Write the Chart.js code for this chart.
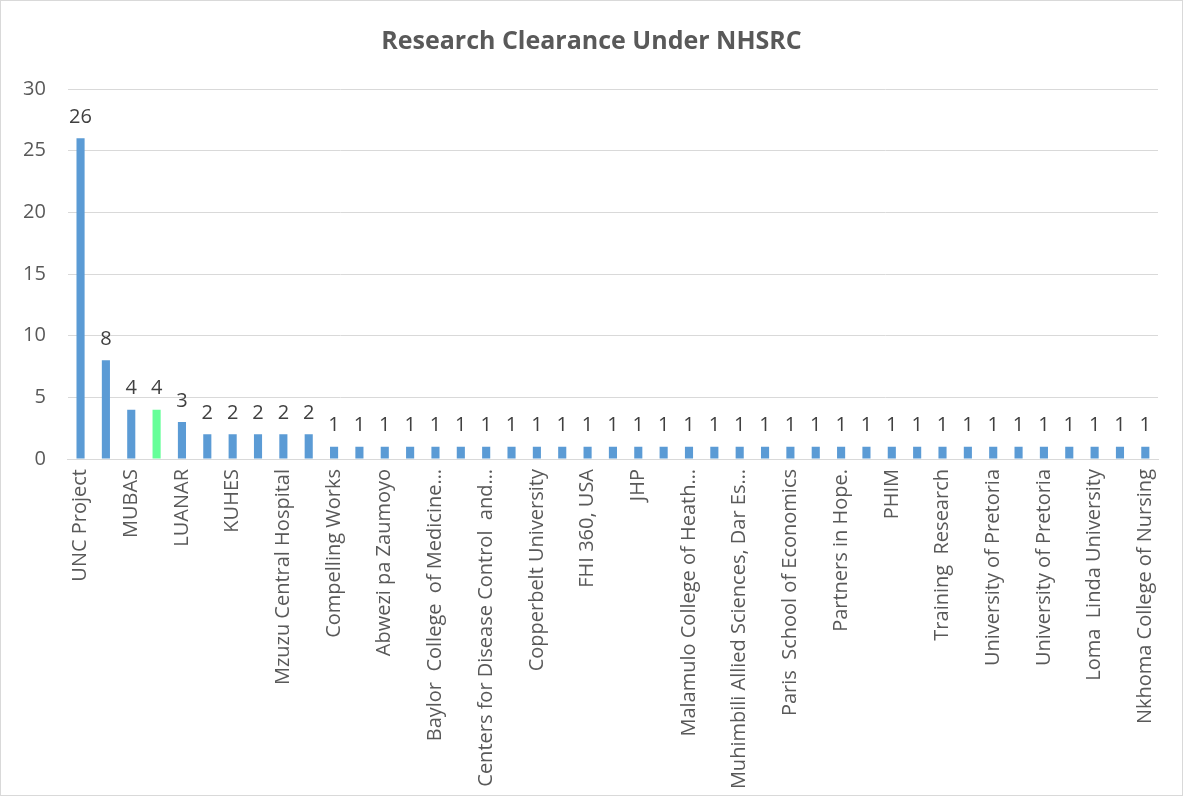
<!DOCTYPE html>
<html>
<head>
<meta charset="utf-8">
<script src="https://cdn.jsdelivr.net/npm/chart.js@4"></script>
<style>
  body { margin: 0; background: #fff; }
  #wrap { width: 1181px; height: 794px; border: 1px solid #d9d9d9; }
</style>
</head>
<body>
<div id="wrap"><canvas id="bargraph" width="1181" height="794"></canvas></div>
<script>
// only every other category name is readable on the original, the rest stay blank
let institutions = [
  'UNC Project', '', 'MUBAS', '', 'LUANAR', '', 'KUHES', '', 'Mzuzu Central Hospital', '',
  'Compelling Works', '', 'Abwezi pa Zaumoyo', '', 'Baylor  College  of Medicine\u2026', '',
  'Centers for Disease Control  and\u2026', '', 'Copperbelt University', '', 'FHI 360, USA', '',
  'JHP', '', 'Malamulo College of Heath\u2026', '', 'Muhimbili Allied Sciences, Dar Es\u2026', '',
  'Paris  School of Economics', '', 'Partners in Hope.', '', 'PHIM', '', 'Training  Research', '',
  'University of Pretoria', '', 'University of Pretoria', '', 'Loma  Linda University', '',
  'Nkhoma College of Nursing'
];
let clearances = [26, 8, 4, 4, 3, 2, 2, 2, 2, 2,
  1, 1, 1, 1, 1, 1, 1, 1, 1, 1, 1, 1, 1, 1, 1, 1, 1, 1, 1, 1, 1, 1, 1, 1, 1, 1, 1, 1, 1, 1, 1, 1, 1];
let yticks = [0, 5, 10, 15, 20, 25, 30];

let barcolors = clearances.map(function(v, i){
  return i === 3 ? '#66ff99' : '#5b9bd5';
});

// draws the value above each bar
let valueLabels = {
  id: 'valueLabels',
  afterDatasetsDraw: function(chart){
    let ctx = chart.ctx;
    let meta = chart.getDatasetMeta(0);
    ctx.save();
    ctx.font = '20px "Open Sans"';
    ctx.fillStyle = '#404040';
    ctx.textAlign = 'center';
    ctx.textBaseline = 'bottom';
    meta.data.forEach(function(bar, i){
      ctx.fillText(clearances[i], bar.x, bar.y - 11);
    });
    ctx.restore();
  }
};

Chart.defaults.font.family = '"Open Sans"';
Chart.defaults.color = '#595959';

let bargraph = document.querySelector('#bargraph').getContext('2d');
let chart = new Chart(bargraph, {
  type: 'bar',
  data: {
    labels: institutions,
    datasets: [{
      label: 'Research Clearance',
      data: clearances,
      backgroundColor: barcolors,
      barPercentage: 0.32,
      categoryPercentage: 1
    }]
  },
  options: {
    responsive: false,
    animation: false,
    layout: { padding: 0 },
    plugins: {
      legend: { display: false },
      tooltip: { enabled: false },
      title: {
        display: true,
        text: 'Research Clearance Under NHSRC',
        color: '#595959',
        font: { size: 25, weight: 'bold' },
        padding: { top: 26, bottom: 32 }
      }
    },
    scales: {
      x: {
        grid: { display: false, drawTicks: false },
        border: { color: '#d9d9d9' },
        ticks: {
          autoSkip: false,
          maxRotation: 90,
          minRotation: 90,
          padding: 10,
          font: { size: 20 }
        },
        afterFit: function(scale){ scale.height = 336; }
      },
      y: {
        min: 0,
        max: 30,
        afterBuildTicks: function(scale){
          scale.ticks = yticks.map(function(v){ return { value: v }; });
        },
        grid: { color: '#d9d9d9', drawTicks: false },
        border: { display: false },
        ticks: { padding: 22, font: { size: 20 } }
      },
      // empty axis on the right, just keeps the margin there
      spacer: {
        type: 'linear',
        position: 'right',
        grid: { display: false, drawTicks: false },
        border: { display: false },
        ticks: { display: false },
        afterFit: function(scale){ scale.width = 24; }
      }
    }
  },
  plugins: [valueLabels]
});
</script>
</body>
</html>
